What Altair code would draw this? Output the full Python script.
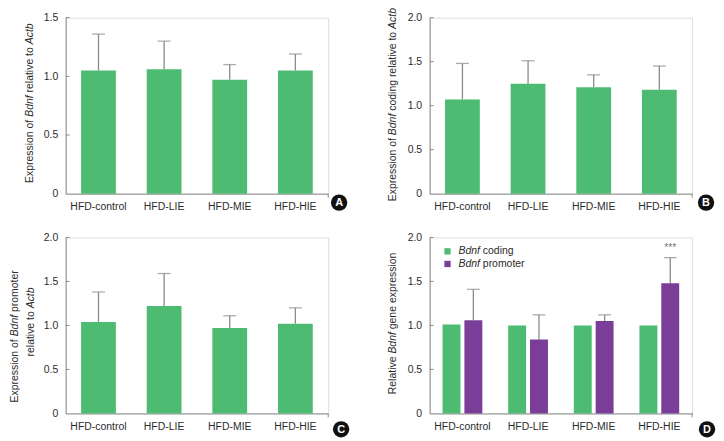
import altair as alt
import pandas as pd

# ---------------- data ----------------
groups = ["HFD-control", "HFD-LIE", "HFD-MIE", "HFD-HIE"]

a_mean = [1.05, 1.06, 0.97, 1.05]
a_err_top = [1.36, 1.30, 1.10, 1.19]

b_mean = [1.07, 1.25, 1.21, 1.18]
b_err_top = [1.48, 1.51, 1.35, 1.45]

c_mean = [1.04, 1.22, 0.97, 1.02]
c_err_top = [1.38, 1.59, 1.11, 1.20]

d_series = ["Bdnf coding", "Bdnf promoter"]
d_coding = [1.01, 1.00, 1.00, 1.00]
d_promoter = [1.06, 0.84, 1.05, 1.48]
d_promoter_err_top = [1.41, 1.12, 1.12, 1.77]
d_signif = ["", "", "", "***"]

a_ticks = [0, 0.5, 1.0, 1.5]
bcd_ticks = [0, 0.5, 1.0, 1.5, 2.0]

# axis titles: (text, italic) segments
a_title = [("Expression of ", False), ("Bdnf", True), (" relative to ", False), ("Actb", True)]
b_title = [("Expression of ", False), ("Bdnf", True), (" coding relative to ", False), ("Actb", True)]
c_title1 = [("Expression of ", False), ("Bdnf", True), (" promoter", False)]
c_title2 = [("relative to ", False), ("Actb", True)]
d_title = [("Relative ", False), ("Bdnf", True), (" gene expression", False)]

panel_letters = ["A", "B", "C", "D"]

# ---------------- style ----------------
FONT = "Liberation Sans"
FS = 10.5
TXT = "#2b2b2b"
AXC = "#8c8c8c"
ERRC = "#8a8a8a"
GREEN = "#4dbb72"
PURPLE = "#7a3e98"
W, H = 264, 177

ARIAL = {" ": 278, "-": 333, ".": 278, "*": 389, "A": 667, "B": 667, "C": 722, "D": 722,
         "E": 667, "F": 611, "H": 722, "I": 278, "L": 556, "M": 833, "R": 722,
         "a": 556, "b": 556, "c": 500, "d": 556, "e": 556, "f": 278, "g": 556, "i": 222,
         "l": 222, "m": 833, "n": 556, "o": 556, "p": 556, "r": 333, "s": 500, "t": 278,
         "v": 500, "x": 500}


def tw(s, size=FS):
    return sum(ARIAL.get(ch, 556) for ch in s) * size / 1000.0


one = pd.DataFrame({"k": [0]})


def vtitle(segments, x_base, y_center, size=FS):
    total = sum(tw(t, size) for t, _ in segments)
    y0 = y_center + total / 2.0
    layers = []
    pos = 0.0
    for t, it in segments:
        lead = len(t) - len(t.lstrip(" "))
        start = pos + tw(" " * lead, size)
        layers.append(
            alt.Chart(one).mark_text(
                text=t.strip(), angle=270, align="left", baseline="alphabetic",
                font=FONT, fontSize=size, fontStyle="italic" if it else "normal", color=TXT,
            ).encode(x=alt.value(x_base), y=alt.value(y0 - start))
        )
        pos += tw(t, size)
    return layers


def letter(ch, cx, cy):
    circ = alt.Chart(one).mark_circle(size=270, color="#111111", opacity=1).encode(
        x=alt.value(cx), y=alt.value(cy))
    txt = alt.Chart(one).mark_text(text=ch, font="Liberation Sans", fontSize=11, fontWeight="bold",
                                   color="white", align="center", baseline="middle").encode(
        x=alt.value(cx), y=alt.value(cy + 0.5))
    return [circ, txt]


def x_enc(pi=0.47, po=0.235):
    return alt.X("group:N", sort=groups,
                 scale=alt.Scale(domain=groups, paddingInner=pi, paddingOuter=po),
                 axis=alt.Axis(title=None, labelAngle=0, ticks=False, labelPadding=8,
                               labelFont=FONT, labelFontSize=FS, labelColor=TXT,
                               domainColor=AXC, domainWidth=1))


def y_enc(field, ymax, ticks):
    return alt.Y(field, type="quantitative",
                 scale=alt.Scale(domain=[0, ymax], nice=False, zero=True),
                 axis=alt.Axis(title=None, values=ticks, grid=False, ticks=False, labelPadding=8,
                               labelExpr="datum.value == 0 ? '0' : format(datum.value, '.1f')",
                               labelFont=FONT, labelFontSize=FS, labelColor=TXT,
                               domainColor=AXC, domainWidth=1))


def inner_ticks(ymax, ticks):
    tdf = pd.DataFrame({"v": ticks[1:]})
    return alt.Chart(tdf).mark_rule(color=AXC, strokeWidth=1).encode(
        y=y_enc("v", ymax, ticks), x=alt.value(0), x2=alt.value(4))


def end_tick():
    return alt.Chart(one).mark_rule(color=AXC, strokeWidth=1).encode(
        x=alt.value(W), y=alt.value(H), y2=alt.value(H + 4))


def single_panel(mean, err, ymax, ticks, title_layers, let):
    df = pd.DataFrame({"group": groups, "mean": mean, "err": err})
    base = alt.Chart(df)
    bars = base.mark_bar(color=GREEN).encode(x=x_enc(), y=y_enc("mean", ymax, ticks))
    rule = base.mark_rule(color=ERRC, strokeWidth=1.3).encode(
        x=x_enc(), y=y_enc("mean", ymax, ticks), y2="err:Q")
    cap = base.mark_tick(color=ERRC, size=13, thickness=1.3).encode(
        x=x_enc(), y=y_enc("err", ymax, ticks))
    layers = [rule, bars, cap, inner_ticks(ymax, ticks), end_tick()] + title_layers + let
    return alt.layer(*layers).properties(width=W, height=H)


panel_a = single_panel(a_mean, a_err_top, 1.5, a_ticks,
                       vtitle(a_title, -33, 86), letter(panel_letters[0], 275, 186))
panel_b = single_panel(b_mean, b_err_top, 2.0, bcd_ticks,
                       vtitle(b_title, -34, 87.5), letter(panel_letters[1], 278, 186))
panel_c = single_panel(c_mean, c_err_top, 2.0, bcd_ticks,
                       vtitle(c_title1, -48, 99.5) + vtitle(c_title2, -32, 85),
                       letter(panel_letters[2], 277, 193))

# ---------------- panel D ----------------
d_long = pd.DataFrame({
    "group": groups * 2,
    "series": [d_series[0]] * 4 + [d_series[1]] * 4,
    "value": d_coding + d_promoter,
})
d_err = pd.DataFrame({"group": groups, "series": [d_series[1]] * 4,
                      "value": d_promoter, "err": d_promoter_err_top, "sig": d_signif})

xo = alt.XOffset("series:N", sort=d_series,
                 scale=alt.Scale(domain=d_series, paddingInner=0.18, paddingOuter=0))
dx = lambda: x_enc(0.394, 0.197)

d_bars = alt.Chart(d_long).mark_bar().encode(
    x=dx(), xOffset=xo, y=y_enc("value", 2.0, bcd_ticks),
    color=alt.Color("series:N", scale=alt.Scale(domain=d_series, range=[GREEN, PURPLE]), legend=None))
d_rule = alt.Chart(d_err).mark_rule(color=ERRC, strokeWidth=1.3).encode(
    x=dx(), xOffset=xo, y=y_enc("value", 2.0, bcd_ticks), y2="err:Q")
d_cap = alt.Chart(d_err).mark_tick(color=ERRC, size=13, thickness=1.3).encode(
    x=dx(), xOffset=xo, y=y_enc("err", 2.0, bcd_ticks))
d_sig = alt.Chart(d_err).mark_text(font=FONT, fontSize=FS, color="#777777", baseline="alphabetic",
                                   dy=-7).encode(
    x=dx(), xOffset=xo, y=y_enc("err", 2.0, bcd_ticks), text="sig:N")

legend_layers = []
for i, (name, col) in enumerate(zip(d_series, [GREEN, PURPLE])):
    ly = 14 + i * 12.7
    legend_layers.append(alt.Chart(one).mark_square(size=40, color=col, opacity=1).encode(
        x=alt.value(18), y=alt.value(ly)))
    first, rest = name.split(" ", 1)
    legend_layers.append(alt.Chart(one).mark_text(
        text=first, font=FONT, fontSize=FS, fontStyle="italic", color=TXT, align="left",
        baseline="middle").encode(x=alt.value(29), y=alt.value(ly)))
    legend_layers.append(alt.Chart(one).mark_text(
        text=rest, font=FONT, fontSize=FS, color=TXT, align="left",
        baseline="middle").encode(x=alt.value(29 + tw(first + " ")), y=alt.value(ly)))

panel_d = alt.layer(d_rule, d_bars, d_cap, d_sig, inner_ticks(2.0, bcd_ticks), end_tick(),
                    *vtitle(d_title, -34, 86.5), *legend_layers,
                    *letter(panel_letters[3], 279, 193)).properties(width=W, height=H)

chart = alt.concat(panel_a, panel_b, panel_c, panel_d, columns=2,
                   spacing={"row": 44, "column": 102}, bounds="flush").properties(
    padding={"left": 1, "top": -2.5, "right": 0, "bottom": 0}
).configure_view(stroke=None).configure(background="white")

chart.save("out.html", embed_options={"renderer": "svg", "actions": False})
